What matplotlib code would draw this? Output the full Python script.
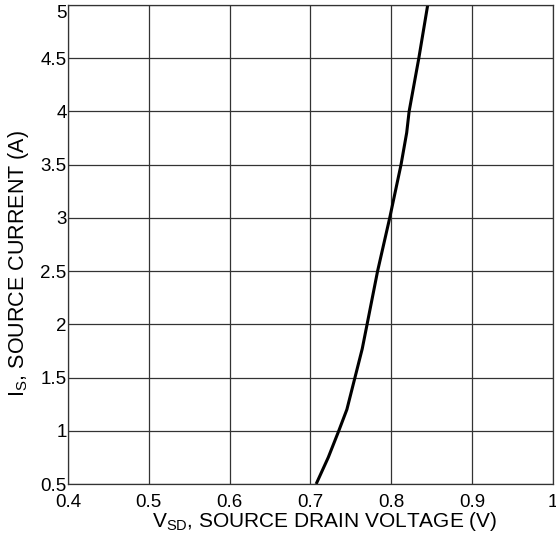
import matplotlib
matplotlib.use("Agg")
import matplotlib.pyplot as plt
from matplotlib.ticker import FuncFormatter

# diode forward curve
v_sd = [0.707, 0.722, 0.735, 0.745, 0.755, 0.764, 0.770, 0.783, 0.798, 0.812, 0.819, 0.822, 0.834, 0.845]
i_s = [0.5, 0.75, 1.0, 1.2, 1.5, 1.77, 2.0, 2.5, 3.0, 3.5, 3.8, 4.0, 4.5, 5.0]

x_ticks = [0.4, 0.5, 0.6, 0.7, 0.8, 0.9, 1.0]
y_ticks = [0.5, 1, 1.5, 2, 2.5, 3, 3.5, 4, 4.5, 5]

plt.rcParams['font.family'] = ['Liberation Sans', 'DejaVu Sans']
plt.rcParams['mathtext.fontset'] = 'custom'
plt.rcParams['mathtext.rm'] = 'Liberation Sans'
plt.rcParams['mathtext.it'] = 'Liberation Sans'

fig = plt.figure(figsize=(5.56, 5.42), dpi=100)
ax = fig.add_axes([0.1223, 0.107, 0.8723, 0.8838])

ax.plot(v_sd, i_s, color='black', lw=2.2, solid_capstyle='butt')

ax.set_xlim(0.4, 1.0)
ax.set_ylim(0.5, 5)
ax.set_xticks(x_ticks)
ax.set_yticks(y_ticks)
fmt = FuncFormatter(lambda v, p: '%g' % round(v, 2))
ax.xaxis.set_major_formatter(fmt)
ax.yaxis.set_major_formatter(fmt)
ax.tick_params(length=0, labelsize=13.5, colors='black')
ax.tick_params(axis='x', pad=7)
ax.tick_params(axis='y', pad=1)
ax.get_yticklabels()[-1].set_va('top')

ax.grid(True, color='#333333', lw=0.9)
ax.set_axisbelow(True)
for s in ax.spines.values():
    s.set_color('#333333')
    s.set_linewidth(0.9)

ax.set_xlabel(r'V$_\mathregular{SD}$, SOURCE DRAIN VOLTAGE (V)', fontsize=15, labelpad=0)
ax.xaxis.set_label_coords(0.53, -0.055)
ax.set_ylabel(r'I$_\mathregular{S}$, SOURCE CURRENT (A)', fontsize=15.5)
ax.yaxis.set_label_coords(-0.077, 0.46)

fig.savefig('out.png', dpi=100)
